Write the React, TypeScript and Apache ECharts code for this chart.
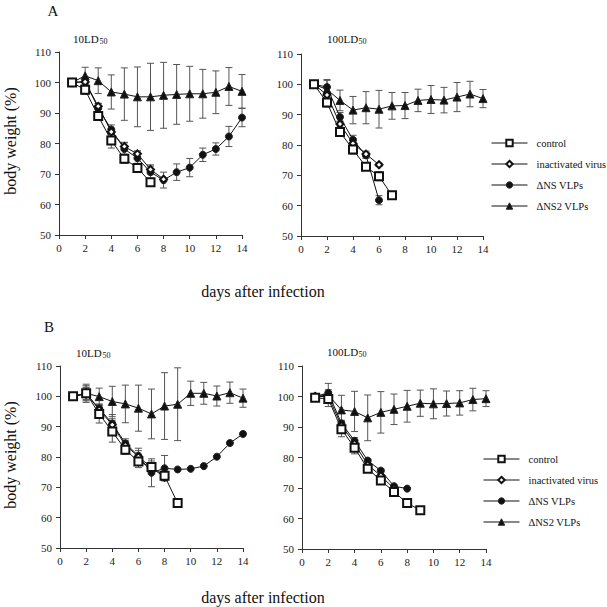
import React, { useEffect, useRef } from "react";
import * as echarts from "echarts";

const FONT = "'Liberation Serif', 'DejaVu Serif', serif";

const days = [1, 2, 3, 4, 5, 6, 7, 8, 9, 10, 11, 12, 13, 14];
const xTicks = { min: 0, max: 14, interval: 2 };
const yTicks = { min: 50, max: 110, interval: 10 };
const seriesNames = ["control", "inactivated virus", "\u0394NS VLPs", "\u0394NS2 VLPs"];
const panelLabels = ["A", "B"];
const doseLabels = ["10LD", "100LD", "10LD", "100LD"];
const doseSub = "50";
const yTitle = "body weight (%)";
const xTitle = "days after infection";

// Panel A, 10LD50
const ctrlA10 = [100, 97.6, 89, 81, 75, 72, 67.3];
const ctrlA10Err = [0, 1.5, 1, 2.5, 1.5, 1.5, 1];
const inactA10 = [100, 100.2, 92.2, 83.8, 79, 76.6, 71.5, 68.3];
const inactA10Err = [0, 1, 1, 1, 1.2, 1, 1.5, 0];
const nsA10 = [100, 100.3, 91.6, 84.6, 78.2, 75.2, 70.6, 68, 70.6, 72.1, 76.3, 78.2, 82.3, 88.5];
const nsA10Err = [0, 1.2, 1.5, 1.5, 2.2, 2, 2, 2.6, 2.7, 3, 2.2, 2, 3.3, 3];
const ns2A10 = [100, 102.2, 100.6, 96.9, 96.2, 95.3, 95.3, 95.8, 96.1, 96.3, 96.3, 96.8, 98.7, 97.1];
const ns2A10Err = [0, 2.8, 4.2, 5.6, 8.6, 9.8, 11, 10.8, 9.8, 9, 8, 7, 6.2, 5.5];

// Panel A, 100LD50
const ctrlA100 = [100, 94, 84.3, 78.5, 72.8, 69.7, 63.4];
const ctrlA100Err = [0, 1.5, 1, 1.5, 1, 1.5, 0.5];
const inactA100 = [100, 96.5, 86.9, 80.5, 77, 73.5];
const inactA100Err = [0, 1, 1, 1, 1, 0.5];
const nsA100 = [100, 99.1, 89.2, 81.7, 76.6, 61.8];
const nsA100Err = [0, 2.5, 1.5, 1.5, 1, 1.5];
const ns2A100 = [100, 98.3, 94.7, 91.5, 92.3, 91.8, 92.9, 93, 94.7, 95, 94.8, 95.8, 96.8, 95.3];
const ns2A100Err = [0, 3, 3.4, 4.5, 5.3, 6.2, 4.4, 4.3, 3.7, 4.6, 4.2, 4.8, 4.2, 3];

// Panel B, 10LD50
const ctrlB10 = [100, 101, 94.2, 88.4, 82.4, 78.5, 76.7, 73.8, 64.8];
const ctrlB10Err = [0, 2.5, 3, 3.5, 1.5, 2, 2, 1.5, 0];
const inactB10 = [100, 101, 95.6, 90.6, 83.9, 80.1, 76.5, 73.3];
const inactB10Err = [0, 2, 1.5, 2, 1.5, 2, 1.5, 1];
const nsB10 = [100, 100.8, 96, 91, 84.5, 80.4, 74.8, 76.3, 75.9, 76.1, 77, 80.1, 84.6, 87.6];
const nsB10Err = [0, 2, 1.5, 3, 1.5, 2.5, 4.6, 4.2, 0, 0, 0, 0, 0, 0];
const ns2B10 = [100, 101, 99.9, 98.3, 97.5, 96.1, 94.2, 96.8, 97.4, 101, 101, 100.1, 101.2, 99.4];
const ns2B10Err = [0, 3, 2.8, 5, 6.2, 7.6, 8.2, 11, 12, 4, 3.6, 3.3, 3.5, 3];

// Panel B, 100LD50
const ctrlB100 = [99.6, 99.2, 89.3, 83.2, 76.3, 72.5, 68.7, 65.1, 62.7];
const ctrlB100Err = [0, 1.5, 2.5, 2, 1, 1, 1, 0, 0];
const inactB100 = [100, 100, 90.5, 84.6, 77.6, 74, 69.8];
const inactB100Err = [0, 1, 1, 1, 0.5, 0.5, 0.5];
const nsB100 = [100, 101.2, 91.2, 85.5, 79, 75.7, 70.6, 69.8];
const nsB100Err = [0, 1, 1, 1, 0.5, 0.5, 0.5, 0];
const ns2B100 = [100, 100.5, 95.6, 95.1, 93, 94.8, 95.8, 96.8, 97.8, 97.6, 97.7, 97.9, 99, 99.3];
const ns2B100Err = [0, 3.8, 4.8, 6.6, 7.5, 6.8, 5, 5.2, 4.3, 4.9, 4.1, 4, 3.7, 2.6];

const panels = [
  { ctrl: [ctrlA10, ctrlA10Err], inact: [inactA10, inactA10Err], ns: [nsA10, nsA10Err], ns2: [ns2A10, ns2A10Err] },
  { ctrl: [ctrlA100, ctrlA100Err], inact: [inactA100, inactA100Err], ns: [nsA100, nsA100Err], ns2: [ns2A100, ns2A100Err] },
  { ctrl: [ctrlB10, ctrlB10Err], inact: [inactB10, inactB10Err], ns: [nsB10, nsB10Err], ns2: [ns2B10, ns2B10Err] },
  { ctrl: [ctrlB100, ctrlB100Err], inact: [inactB100, inactB100Err], ns: [nsB100, nsB100Err], ns2: [ns2B100, ns2B100Err] },
];

const grids = [
  { left: 59, top: 52, width: 183, height: 183 },
  { left: 301, top: 54, width: 182, height: 182 },
  { left: 60, top: 366, width: 183, height: 182 },
  { left: 302, top: 366, width: 184, height: 183 },
];

function errRender(params: any, api: any) {
  const x = api.value(0);
  const lo = api.value(1);
  const hi = api.value(2);
  const p1 = api.coord([x, hi]);
  const p2 = api.coord([x, lo]);
  const w = 3.5;
  const style = { stroke: "#555", lineWidth: 1, fill: "none" };
  return {
    type: "group",
    children: [
      { type: "line", shape: { x1: p1[0], y1: p1[1], x2: p2[0], y2: p2[1] }, style },
      { type: "line", shape: { x1: p1[0] - w, y1: p1[1], x2: p1[0] + w, y2: p1[1] }, style },
      { type: "line", shape: { x1: p2[0] - w, y1: p2[1], x2: p2[0] + w, y2: p2[1] }, style },
    ],
  };
}

function buildOption() {
  const axisLine = { show: true, lineStyle: { color: "#333", width: 1 } };
  const axisTick = { show: true, inside: false, length: 4, lineStyle: { color: "#333" } };
  const axisLabelStyle = { fontFamily: FONT, fontSize: 11, color: "#222" };

  const xAxis = grids.map((_, i) => ({
    type: "value",
    gridIndex: i,
    ...xTicks,
    axisLine,
    axisTick,
    axisLabel: { ...axisLabelStyle, margin: 7 },
    splitLine: { show: false },
  }));
  const yAxis = grids.map((_, i) => ({
    type: "value",
    gridIndex: i,
    ...yTicks,
    axisLine,
    axisTick,
    axisLabel: { ...axisLabelStyle, margin: 8 },
    splitLine: { show: false },
  }));

  const series: any[] = [];
  const specs = [
    { key: "ns2", name: seriesNames[3], symbol: "triangle", size: 8 },
    { key: "ns", name: seriesNames[2], symbol: "circle", size: 7 },
    { key: "inact", name: seriesNames[1], symbol: "emptyDiamond", size: 7 },
    { key: "ctrl", name: seriesNames[0], symbol: "emptyRect", size: 8 },
  ];
  panels.forEach((p: any, i) => {
    specs.forEach((s) => {
      const [vals, errs] = p[s.key];
      const errData = vals
        .map((v: number, k: number) => [days[k], v - errs[k], v + errs[k], errs[k]])
        .filter((d: number[]) => d[3] > 0);
      series.push({
        type: "custom",
        name: "err-" + s.key + i,
        xAxisIndex: i,
        yAxisIndex: i,
        renderItem: errRender,
        encode: { x: 0, y: [1, 2] },
        data: errData,
        silent: true,
        z: 2,
      });
    });
    specs.forEach((s) => {
      const [vals] = p[s.key];
      series.push({
        type: "line",
        name: s.name,
        xAxisIndex: i,
        yAxisIndex: i,
        data: vals.map((v: number, k: number) => [days[k], v]),
        symbol: s.symbol,
        symbolSize: s.size,
        showAllSymbol: true,
        lineStyle: { color: "#111", width: 1 },
        itemStyle: { color: "#111", borderColor: "#222", borderWidth: 1 },
        z: 3,
      });
    });
  });

  const legendBase = {
    data: seriesNames,
    orient: "vertical",
    padding: 0,
    itemWidth: 36,
    itemHeight: 8,
    itemGap: 9,
    selectedMode: false,
    itemStyle: { borderWidth: 1 },
    lineStyle: { width: 1 },
    textStyle: {
      fontFamily: FONT,
      fontSize: 10.5,
      lineHeight: 12,
      color: "#111",
      padding: [0, 0, 0, 4],
    },
  };

  const graphic: any[] = [];
  const bigText = (t: string, x: number, y: number, size: number, rot = 0) => ({
    type: "text",
    x,
    y,
    rotation: rot,
    style: { text: t, fontFamily: FONT, fontSize: size, fill: "#111", align: "center", verticalAlign: "middle" },
  });
  graphic.push(bigText(panelLabels[0], 53, 11, 15));
  graphic.push(bigText(panelLabels[1], 49, 327, 15));
  graphic.push(bigText(yTitle, 10, 141, 16, Math.PI / 2));
  graphic.push(bigText(yTitle, 10, 455, 16, Math.PI / 2));
  graphic.push(bigText(xTitle, 263, 291, 16));
  graphic.push(bigText(xTitle, 263, 597, 16));

  const dosePos = [
    [73, 39],
    [327, 39],
    [76, 353],
    [327, 352],
  ];
  dosePos.forEach(([x, y], i) => {
    graphic.push({
      type: "text",
      x,
      y,
      style: { text: doseLabels[i], fontFamily: FONT, fontSize: 11, fill: "#111", align: "left", verticalAlign: "middle" },
    });
    const w = doseLabels[i].length === 4 ? 26.5 : 31.5;
    graphic.push({
      type: "text",
      x: x + w,
      y: y + 2.5,
      style: { text: doseSub, fontFamily: FONT, fontSize: 8, fill: "#111", align: "left", verticalAlign: "middle" },
    });
  });

  return {
    animation: false,
    backgroundColor: "#fff",
    grid: grids,
    xAxis,
    yAxis,
    series,
    legend: [
      { ...legendBase, left: 491, top: 137 },
      { ...legendBase, left: 483, top: 453 },
    ],
    graphic,
  };
}

export default function App() {
  const ref = useRef<HTMLDivElement>(null);
  useEffect(() => {
    if (!ref.current) return;
    const chart = echarts.init(ref.current, null, { renderer: "svg" });
    chart.setOption(buildOption() as any);
    return () => chart.dispose();
  }, []);
  return (
    <div
      ref={ref}
      style={{ position: "fixed", left: 0, top: 0, width: 607, height: 607, background: "#fff" }}
    />
  );
}
